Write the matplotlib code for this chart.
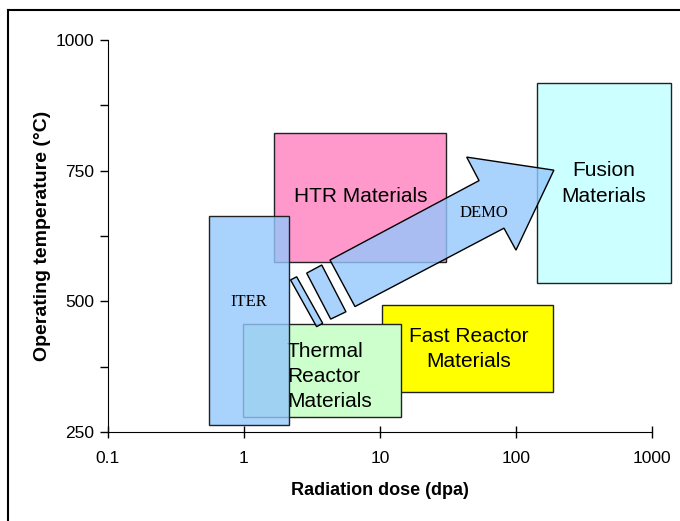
import matplotlib.pyplot as plt
from matplotlib.patches import Rectangle, Polygon
from matplotlib.lines import Line2D
import matplotlib.ticker as mticker

plt.rcParams['font.family'] = ['Liberation Sans', 'DejaVu Sans']

# material regions: radiation dose range (dpa) and temperature range (C)
regions = ['Fusion', 'Fast', 'Thermal', 'HTR', 'ITER']
dose_lo = [143, 10.3, 0.98, 1.66, 0.55]
dose_hi = [1380, 187, 14.3, 30.6, 2.15]
temp_lo = [535, 327, 279, 575, 263]
temp_hi = [918, 493, 457, 822, 663]
fills = ['#CCFFFF', '#FFFF00', '#CCFFCC', '#FF99CC', (0.58, 0.78, 0.99, 0.8)]

# DEMO arrow outline (dose, temperature)
demo_x = [4.29, 53.5, 43.4, 190, 100, 81.6, 6.55]
demo_y = [579, 731, 776, 751, 598, 640, 490]
# the two small pieces behind the arrow
seg1_x = [2.20, 2.44, 3.79, 3.42]
seg1_y = [541, 547, 458, 451.5]
seg2_x = [2.89, 3.73, 5.62, 4.34]
seg2_y = [554, 569.5, 480, 466]

# labels
labels = ['Fusion\nMaterials', 'Fast Reactor\nMaterials', 'Thermal\nReactor\nMaterials',
          'HTR Materials', 'ITER', 'DEMO']
label_x = [444, 45.1, 2.07, 7.25, 1.09, 58.2]
label_y = [726, 409, 357, 700, 499, 669]

blue = (0.58, 0.78, 0.99, 0.8)

fig = plt.figure(figsize=(6.8, 5.21), dpi=100)
ax = fig.add_axes([0.1588, 0.1708, 0.8, 0.7524])

for i, name in enumerate(regions):
    r = Rectangle((dose_lo[i], temp_lo[i]), dose_hi[i] - dose_lo[i], temp_hi[i] - temp_lo[i],
                  facecolor=fills[i], edgecolor='#222222', lw=1.0, clip_on=False, zorder=2 + i)
    ax.add_patch(r)

for xs, ys in [(demo_x, demo_y), (seg1_x, seg1_y), (seg2_x, seg2_y)]:
    p = Polygon(list(zip(xs, ys)), closed=True, facecolor=blue, edgecolor='black',
                lw=1.0, clip_on=False, zorder=8)
    ax.add_patch(p)

# text
ax.text(label_x[0], label_y[0], labels[0], ha='center', va='center', fontsize=15,
        linespacing=1.45, zorder=10)
ax.text(label_x[1], label_y[1], labels[1], ha='center', va='center', fontsize=15,
        linespacing=1.45, zorder=10)
ax.text(label_x[2], label_y[2], labels[2], ha='left', va='center', fontsize=15,
        linespacing=1.4, zorder=4)
ax.text(label_x[3], label_y[3], labels[3], ha='center', va='center', fontsize=15, zorder=5)
ax.text(label_x[4], label_y[4], labels[4], ha='center', va='center', fontsize=12,
        family='Liberation Serif', zorder=10)
ax.text(label_x[5], label_y[5], labels[5], ha='center', va='center', fontsize=12,
        family='Liberation Serif', zorder=10)

ax.set_xscale('log')
ax.set_xlim(0.1, 1000)
ax.set_ylim(250, 1000)
ax.set_xticks([0.1, 1, 10, 100, 1000])
ax.set_xticklabels(['0.1', '1', '10', '100', '1000'])
ax.xaxis.set_minor_locator(mticker.NullLocator())
ax.set_yticks([250, 500, 750, 1000])
ax.set_yticks([375, 625, 875], minor=True)
ax.tick_params(axis='x', direction='inout', length=9, width=1, labelsize=12.5, pad=9)
ax.tick_params(axis='y', which='both', direction='out', length=6, width=1, labelsize=12.5, pad=4)
for s in ['top', 'right']:
    ax.spines[s].set_visible(False)

ax.set_xlabel('Radiation dose (dpa)', fontsize=13, fontweight='bold', labelpad=12)
ax.set_ylabel('Operating temperature (°C)', fontsize=14, fontweight='bold', labelpad=3)

# frame of the original picture (top and left only)
fig.add_artist(Line2D([0.0118, 1.0], [0.9808, 0.9808], color='black', lw=1.5))
fig.add_artist(Line2D([0.0118, 0.0118], [0.0, 0.9808], color='black', lw=1.5))

fig.savefig('out.png', dpi=100)
